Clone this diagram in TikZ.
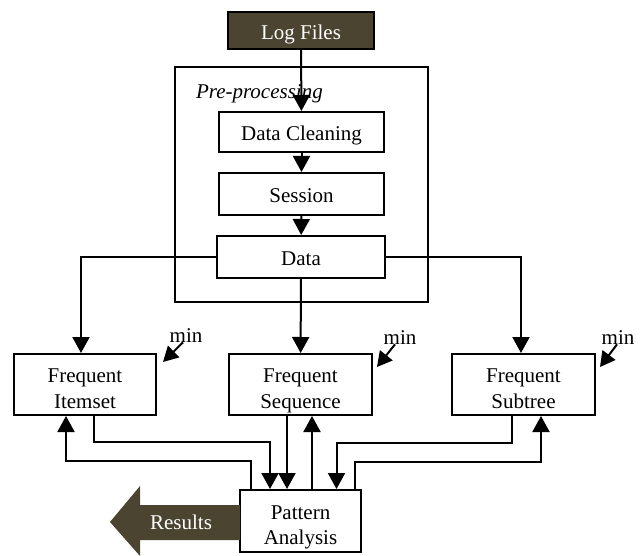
\documentclass[tikz,border=0pt]{standalone}
\usepackage{fontspec}
\setmainfont{Liberation Serif}
\usetikzlibrary{calc,arrows.meta}
\definecolor{logbrown}{HTML}{4A4430}

\begin{document}
\begin{tikzpicture}[x=0.5pt,y=-0.5pt,
  font=\fontsize{10.5}{12.6}\selectfont,
  procbox/.style={draw,line width=1pt,inner sep=0pt,align=center},
  onetext/.style={text height=11pt,text depth=2.3pt},
  twotext/.style={text height=25.9pt,text depth=2.3pt},
  arr/.style={line width=1pt,-{Triangle[width=8.5pt,length=8pt]}},
  minarr/.style={line width=1pt,-{Triangle[width=8pt,length=7.5pt]}}]
  \useasboundingbox (0,0) rectangle (643,556);

  % 日志文件与预处理
  \node[procbox,onetext,fill=logbrown,text=white,minimum width=73pt,minimum height=18.5pt] (logs) at (301,30.5) {Log Files};
  \node[procbox,minimum width=126.5pt,minimum height=117.5pt] (pre) at (301.5,184.5) {};
  \node[anchor=west,font=\fontsize{10.5}{12.6}\selectfont\itshape] (prelabel) at (189,94) {Pre-processing};
  \node[procbox,onetext,minimum width=82.5pt,minimum height=20pt] (clean) at (301.5,132) {Data Cleaning};
  \node[procbox,onetext,minimum width=82.5pt,minimum height=21pt] (session) at (301.5,194) {Session};
  \node[procbox,onetext,minimum width=84pt,minimum height=21pt] (data) at (301,257) {Data};

  % 频繁模式挖掘
  \node[procbox,twotext,minimum width=71pt,minimum height=30.5pt] (itemset) at (85,384.5) {Frequent\\Itemset};
  \node[procbox,twotext,minimum width=71.5pt,minimum height=30.5pt] (sequence) at (300.5,384.5) {Frequent\\Sequence};
  \node[procbox,twotext,minimum width=71.5pt,minimum height=30.5pt] (subtree) at (523.5,384.5) {Frequent\\Subtree};

  % 最小支持度
  \node[inner sep=0pt] (minA) at (186,336) {min};
  \node[inner sep=0pt] (minB) at (400,338) {min};
  \node[inner sep=0pt] (minC) at (618,338) {min};
  \coordinate (tipA) at (163,362);
  \coordinate (tipB) at (377,367);
  \coordinate (tipC) at (600,367);

  % 模式分析与结果
  \node[procbox,twotext,minimum width=60.5pt,minimum height=31pt] (pattern) at (300.5,521) {Pattern\\Analysis};
  \fill[logbrown] (240,505) -- (140,505) -- (140,486) -- (110,522) -- (140,556)
    -- (140,540) -- (240,540) -- cycle;
  \node[text=white] (results) at (181,522) {Results};

  % 连线
  \draw[arr] (logs) -- (clean);
  \draw[arr] (clean) -- (session);
  \draw[arr] (session) -- (data);
  \draw[arr] (data.west) -| ($(itemset.north)+(-4,0)$);
  \draw[arr] (data) -- (sequence);
  \draw[arr] (data.east) -| ($(subtree.north)+(-2.5,0)$);

  \draw[minarr] ($(minA.south)+(-3,-1)$) -- (tipA);
  \draw[minarr] ($(minB.south)+(-5,-1)$) -- (tipB);
  \draw[minarr] ($(minC.south)+(-1,-1)$) -- (tipC);

  \draw[arr] ($(pattern.north west)+(12,0)$) -- ++(0,-28) -| ($(itemset.south)+(-19,0)$);
  \draw[arr] ($(itemset.south)+(9,0)$) -- ++(0,26) -| ($(pattern.north)+(-30.5,0)$);
  \draw[arr] ($(sequence.south)+(-13.5,0)$) -- ($(pattern.north)+(-13.5,0)$);
  \draw[arr] ($(pattern.north)+(11.5,0)$) -- ($(sequence.south)+(11.5,0)$);
  \draw[arr] ($(subtree.south)+(-11.5,0)$) -- ++(0,27) -| ($(pattern.north)+(36,0)$);
  \draw[arr] ($(pattern.north east)+(-7,0)$) -- ++(0,-27) -| ($(subtree.south)+(17.5,0)$);

\end{tikzpicture}
\end{document}
